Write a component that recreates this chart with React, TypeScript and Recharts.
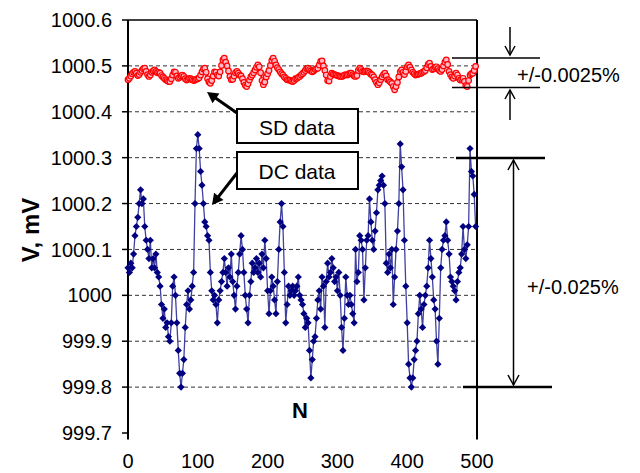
import React from "react";
import { LineChart, Line, XAxis, YAxis, ReferenceLine } from "recharts";

// sample index N (every second reading)
const N_STEP = 2;

const DC_DATA = [
  1000.06, 1000.05, 1000.07, 1000.06, 1000.09, 1000.13, 1000.15, 1000.17, 1000.2, 1000.23, 1000.2, 1000.21, 1000.15, 1000.12, 1000.1, 1000.08, 1000.12, 1000.06, 1000.08, 1000.06, 1000.09, 1000.05, 1000.04, 1000.02, 999.98,
  999.95, 999.97, 999.93, 999.94, 999.91, 999.9, 999.94, 1000.02, 1000.04, 1000.0, 999.94, 999.88, 999.83, 999.8, 999.83, 999.86, 999.93, 999.98, 1000.01, 999.97, 999.99, 1000.02, 1000.05, 1000.2, 1000.32,
  1000.35, 1000.32, 1000.27, 1000.24, 1000.2, 1000.16, 1000.15, 1000.13, 1000.12, 1000.05, 1000.01, 999.99, 1000.0, 999.98, 999.94, 999.99, 1000.01, 1000.03, 1000.05, 1000.08, 1000.05, 1000.02, 1000.06, 1000.04, 1000.09,
  1000.03, 1000.0, 999.97, 1000.02, 1000.05, 1000.09, 1000.13, 1000.1, 1000.05, 1000.0, 999.97, 999.94, 1000.0, 1000.03, 1000.07, 1000.05, 1000.06, 1000.08, 1000.05, 1000.07, 1000.04, 1000.09, 1000.06, 1000.12, 1000.08,
  1000.01, 999.96, 1000.01, 1000.04, 1000.02, 999.99, 999.96, 1000.03, 1000.1, 1000.16, 1000.2, 1000.15, 1000.05, 999.94, 999.98, 1000.02, 1000.0, 1000.01, 1000.02, 1000.0, 1000.01, 1000.02, 1000.04, 1000.0, 999.99,
  999.98, 999.96, 999.93, 999.95, 999.94, 999.88, 999.82, 999.86, 999.9, 999.91, 999.95, 999.99, 1000.01, 999.97, 1000.04, 1000.02, 999.93, 1000.03, 1000.07, 1000.04, 1000.05, 1000.08, 1000.06, 1000.03, 1000.04,
  1000.01, 1000.05, 1000.0, 999.93, 999.88, 999.95, 1000.04, 1000.0, 999.98, 1000.0, 999.98, 999.96, 999.94, 1000.1, 1000.03, 1000.05, 1000.13, 1000.12, 1000.1, 999.99, 1000.06, 1000.12, 1000.13, 1000.21, 1000.16,
  1000.12, 1000.1, 1000.14, 1000.18, 1000.23, 1000.24, 1000.25, 1000.26, 1000.24, 1000.2, 1000.07, 1000.05, 1000.09, 1000.06, 1000.1, 999.98, 1000.04, 1000.1, 1000.14, 1000.2, 1000.33, 1000.28, 1000.23, 1000.12, 1000.02,
  999.94, 999.85, 999.82, 999.8, 999.82, 999.86, 999.88, 999.9, 999.96, 1000.0, 999.97, 999.93, 999.98, 1000.0, 1000.02, 1000.06, 1000.12, 1000.08, 1000.04, 999.99, 999.97, 999.9, 999.85, 999.95, 1000.06,
  1000.1, 1000.12, 1000.13, 1000.16, 1000.12, 1000.09, 1000.04, 1000.03, 1000.02, 1000.01, 999.99, 1000.03, 1000.05, 1000.06, 1000.09, 1000.15, 1000.1, 1000.08, 1000.11, 1000.15, 1000.32, 1000.27, 1000.26, 1000.22, 1000.15,
];

const SD_DATA = [
  1000.470, 1000.473, 1000.478, 1000.483, 1000.486, 1000.488, 1000.484, 1000.479, 1000.481, 1000.486, 1000.490, 1000.494, 1000.495, 1000.488, 1000.481, 1000.477, 1000.480, 1000.486, 1000.489, 1000.491, 1000.488, 1000.485, 1000.486, 1000.484, 1000.479,
  1000.476, 1000.473, 1000.470, 1000.468, 1000.466, 1000.466, 1000.472, 1000.480, 1000.487, 1000.486, 1000.478, 1000.473, 1000.475, 1000.478, 1000.480, 1000.477, 1000.472, 1000.469, 1000.471, 1000.473, 1000.472, 1000.470, 1000.468, 1000.469, 1000.471,
  1000.472, 1000.474, 1000.480, 1000.487, 1000.493, 1000.495, 1000.486, 1000.472, 1000.465, 1000.462, 1000.468, 1000.478, 1000.487, 1000.486, 1000.480, 1000.478, 1000.487, 1000.501, 1000.513, 1000.517, 1000.508, 1000.500, 1000.489, 1000.477, 1000.470,
  1000.471, 1000.478, 1000.485, 1000.488, 1000.484, 1000.480, 1000.478, 1000.472, 1000.464, 1000.458, 1000.455, 1000.461, 1000.469, 1000.476, 1000.480, 1000.485, 1000.491, 1000.497, 1000.502, 1000.498, 1000.485, 1000.468, 1000.459, 1000.465, 1000.476,
  1000.483, 1000.490, 1000.501, 1000.512, 1000.517, 1000.510, 1000.502, 1000.496, 1000.492, 1000.487, 1000.483, 1000.480, 1000.476, 1000.473, 1000.470, 1000.469, 1000.469, 1000.467, 1000.466, 1000.468, 1000.472, 1000.473, 1000.475, 1000.477, 1000.480,
  1000.483, 1000.486, 1000.490, 1000.494, 1000.495, 1000.492, 1000.489, 1000.487, 1000.489, 1000.492, 1000.494, 1000.495, 1000.502, 1000.510, 1000.511, 1000.500, 1000.490, 1000.480, 1000.468, 1000.467, 1000.477, 1000.484, 1000.482, 1000.481, 1000.480,
  1000.479, 1000.478, 1000.477, 1000.477, 1000.478, 1000.480, 1000.481, 1000.480, 1000.482, 1000.484, 1000.484, 1000.481, 1000.478, 1000.477, 1000.479, 1000.490, 1000.495, 1000.492, 1000.488, 1000.487, 1000.488, 1000.489, 1000.488, 1000.485, 1000.482,
  1000.480, 1000.476, 1000.470, 1000.464, 1000.459, 1000.463, 1000.470, 1000.476, 1000.481, 1000.484, 1000.478, 1000.470, 1000.468, 1000.465, 1000.462, 1000.455, 1000.448, 1000.455, 1000.464, 1000.476, 1000.487, 1000.491, 1000.486, 1000.481, 1000.488,
  1000.498, 1000.502, 1000.497, 1000.491, 1000.486, 1000.483, 1000.480, 1000.481, 1000.482, 1000.483, 1000.484, 1000.486, 1000.488, 1000.490, 1000.496, 1000.503, 1000.506, 1000.499, 1000.492, 1000.494, 1000.497, 1000.498, 1000.494, 1000.490, 1000.488,
  1000.492, 1000.500, 1000.508, 1000.513, 1000.503, 1000.488, 1000.481, 1000.476, 1000.473, 1000.478, 1000.484, 1000.480, 1000.473, 1000.469, 1000.471, 1000.473, 1000.466, 1000.457, 1000.455, 1000.468, 1000.480, 1000.483, 1000.484, 1000.490, 1000.499,
];

const X_TICKS = [0, 100, 200, 300, 400, 500];
const Y_TICKS = [999.7, 999.8, 999.9, 1000.0, 1000.1, 1000.2, 1000.3, 1000.4, 1000.5, 1000.6];
const GRID_LEVELS = [999.8, 999.9, 1000.0, 1000.1, 1000.2, 1000.3, 1000.4, 1000.5];

const data = DC_DATA.map((dc, i) => ({ n: i * N_STEP, dc, sd: SD_DATA[i] }));

const FONT = "'Liberation Sans', Arial, sans-serif";

const fmtY = (v: number) => (Math.abs(v - 1000) < 1e-6 ? "1000" : v.toFixed(1));

const Diamond = (props: any) => {
  const { cx, cy, index } = props;
  if (cx == null || cy == null) return null;
  const s = 3.6;
  return (
    <polygon
      key={`d-${index}`}
      points={`${cx},${cy - s} ${cx + s},${cy} ${cx},${cy + s} ${cx - s},${cy}`}
      fill="#000080"
    />
  );
};

const arrowHead = (x: number, y: number, ang: number, len = 11, w = 6) => {
  // filled arrow head pointing along ang (radians) with tip at x,y
  const bx = x - len * Math.cos(ang);
  const by = y - len * Math.sin(ang);
  const px = -Math.sin(ang) * w;
  const py = Math.cos(ang) * w;
  return `${x},${y} ${bx + px},${by + py} ${bx - px},${by - py}`;
};

function Annotations() {
  const a1 = Math.atan2(92 - 113, 207 - 237);
  const a2 = Math.atan2(205 - 173, 212 - 237);
  return (
    <svg width={640} height={473} style={{ position: "absolute", left: 0, top: 0, pointerEvents: "none" }}>
      <g fontFamily={FONT}>
        <text x={30} y={230} transform="rotate(-90 30 230)" textAnchor="middle" dominantBaseline="central"
          fontSize={24} fontWeight="bold">V, mV</text>
        <text x={300} y={410} textAnchor="middle" dominantBaseline="central" fontSize={22} fontWeight="bold">N</text>

        <rect x={237} y={109} width={121} height={34} fill="#fff" stroke="#000" strokeWidth={2} />
        <text x={297} y={127} textAnchor="middle" dominantBaseline="central" fontSize={21}>SD data</text>
        <rect x={237} y={152} width={121} height={37} fill="#fff" stroke="#000" strokeWidth={2} />
        <text x={297} y={171} textAnchor="middle" dominantBaseline="central" fontSize={21}>DC data</text>

        <line x1={237} y1={113} x2={207 - 9 * Math.cos(a1)} y2={92 - 9 * Math.sin(a1)} stroke="#000" strokeWidth={3} />
        <polygon points={arrowHead(207, 92, a1)} fill="#000" />
        <line x1={237} y1={173} x2={212 - 9 * Math.cos(a2)} y2={205 - 9 * Math.sin(a2)} stroke="#000" strokeWidth={3} />
        <polygon points={arrowHead(212, 205, a2)} fill="#000" />

        <line x1={452} y1={58} x2={540} y2={58} stroke="#000" strokeWidth={1.5} />
        <line x1={452} y1={87.5} x2={540} y2={87.5} stroke="#000" strokeWidth={1.5} />
        <line x1={510} y1={27} x2={510} y2={55} stroke="#000" strokeWidth={1.5} />
        <polyline points="505,46 510,55 515,46" fill="none" stroke="#000" strokeWidth={1.5} />
        <line x1={510} y1={90} x2={510} y2={120} stroke="#000" strokeWidth={1.5} />
        <polyline points="505,99 510,90 515,99" fill="none" stroke="#000" strokeWidth={1.5} />
        <text x={517} y={75} dominantBaseline="central" fontSize={20}>+/-0.0025%</text>

        <line x1={456} y1={158} x2={545} y2={158} stroke="#000" strokeWidth={2.5} />
        <line x1={463} y1={387} x2={552} y2={387} stroke="#000" strokeWidth={2.5} />
        <line x1={513.5} y1={160} x2={513.5} y2={385} stroke="#000" strokeWidth={1.5} />
        <polyline points="508,170 513.5,160 519,170" fill="none" stroke="#000" strokeWidth={1.5} />
        <polyline points="508,375 513.5,385 519,375" fill="none" stroke="#000" strokeWidth={1.5} />
        <text x={527} y={287} dominantBaseline="central" fontSize={20}>+/-0.025%</text>
      </g>
    </svg>
  );
}

export default function App() {
  return (
    <div style={{ position: "absolute", left: 0, top: 0, width: 640, height: 473, background: "#fff" }}>
      <LineChart width={640} height={473} data={data} margin={{ top: 20, right: 163, bottom: 0, left: 0 }}>
        <XAxis
          dataKey="n"
          type="number"
          domain={[0, 500]}
          ticks={X_TICKS}
          axisLine={false}
          tickLine={false}
          tickMargin={15}
          height={40}
          tick={{ fill: "#000", fontSize: 20, fontFamily: FONT }}
          interval={0}
        />
        <YAxis
          type="number"
          domain={[999.7, 1000.6]}
          ticks={Y_TICKS}
          allowDataOverflow
          width={128}
          tickFormatter={fmtY}
          tickSize={6}
          tickMargin={10}
          tickLine={{ stroke: "#000", strokeWidth: 1.5 }}
          axisLine={{ stroke: "#000", strokeWidth: 2 }}
          tick={{ fill: "#000", fontSize: 20, fontFamily: FONT }}
          interval={0}
        />
        {GRID_LEVELS.map((v) => (
          <ReferenceLine key={v} y={v} stroke="#333" strokeDasharray="4 3" strokeWidth={1} />
        ))}
        <ReferenceLine y={1000.6} stroke="#000" strokeWidth={1.5} />
        <ReferenceLine x={500} stroke="#000" strokeWidth={2} />
        <ReferenceLine segment={[{ x: 0, y: 999.686 }, { x: 0, y: 999.7 }]} stroke="#000" strokeWidth={2} ifOverflow="visible" />
        <ReferenceLine segment={[{ x: 500, y: 999.686 }, { x: 500, y: 999.7 }]} stroke="#000" strokeWidth={2} ifOverflow="visible" />
        <Line
          dataKey="dc"
          stroke="#4040a0"
          strokeWidth={1.3}
          dot={Diamond}
          activeDot={false}
          isAnimationActive={false}
        />
        <Line
          dataKey="sd"
          stroke="#ff0000"
          strokeWidth={2}
          dot={{ r: 2.8, stroke: "#ff0000", strokeWidth: 1.2, fill: "#ffb8c8" }}
          activeDot={false}
          isAnimationActive={false}
        />
      </LineChart>
      <Annotations />
    </div>
  );
}
